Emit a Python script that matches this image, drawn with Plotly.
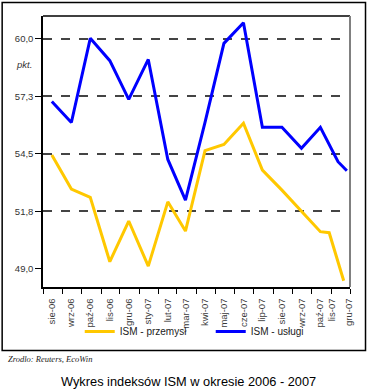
import plotly.graph_objects as go

# --- data ---
dates_przemysl = ["2006-08-15", "2006-09-15", "2006-10-15", "2006-11-15", "2006-12-15",
                  "2007-01-15", "2007-02-15", "2007-03-15", "2007-04-15", "2007-05-15",
                  "2007-06-15", "2007-07-15", "2007-08-15", "2007-09-15", "2007-10-15",
                  "2007-10-29", "2007-11-21"]
ism_przemysl = [54.44, 52.81, 52.41, 49.33, 51.28, 49.12, 52.20, 50.80, 54.65, 54.95,
                55.96, 53.72, 52.76, 51.73, 50.77, 50.72, 48.42]

dates_uslugi = ["2006-08-15", "2006-09-15", "2006-10-15", "2006-11-15", "2006-12-15",
                "2007-01-15", "2007-02-15", "2007-03-15", "2007-04-15", "2007-05-15",
                "2007-06-15", "2007-07-15", "2007-08-15", "2007-09-15", "2007-10-15",
                "2007-11-12", "2007-11-26"]
ism_uslugi = [57.0, 56.0, 60.03, 58.96, 57.11, 59.02, 54.23, 52.28, 56.0, 59.79,
              60.78, 55.77, 55.77, 54.76, 55.77, 54.12, 53.69]

tick_dates = ["2006-08-15", "2006-09-15", "2006-10-15", "2006-11-15", "2006-12-15",
              "2007-01-15", "2007-02-15", "2007-03-15", "2007-04-15", "2007-05-15",
              "2007-06-15", "2007-07-15", "2007-08-15", "2007-09-15", "2007-10-15",
              "2007-11-03", "2007-11-30"]
tick_labels = ["sie-06", "wrz-06", "paź-06", "lis-06", "gru-06", "sty-07", "lut-07",
               "mar-07", "kwi-07", "maj-07", "cze-07", "lip-07", "sie-07", "wrz-07",
               "paź-07", "lis-07", "gru-07"]

y_ticks = [49.0, 51.75, 54.5, 57.25, 60.0]
y_tick_labels = ["49,0", "51,8", "54,5", "57,3", "60,0"]
grid_ticks = [51.75, 54.5, 57.25, 60.0]

YELLOW = "#FFC800"
BLUE = "#0000FF"

fig = go.Figure()
# invisible trace to activate yaxis2 grid (drawn first, below data)
fig.add_trace(go.Scatter(x=[dates_uslugi[0]], y=[ism_uslugi[0]], yaxis="y2",
                         mode="lines", line=dict(width=0), showlegend=False,
                         hoverinfo="skip"))
fig.add_trace(go.Scatter(x=dates_przemysl, y=ism_przemysl, mode="lines",
                         name="ISM - przemysł", line=dict(color=YELLOW, width=3)))
fig.add_trace(go.Scatter(x=dates_uslugi, y=ism_uslugi, mode="lines",
                         name="ISM - usługi", line=dict(color=BLUE, width=3)))

L, R, T, B = 43.3, 350.0, 16.0, 287.0
W, H = 380, 391
pw, ph = R - L, B - T


def px(x):
    return (x - L) / pw


def py(y):
    return (B - y) / ph


yrange = [48.12, 61.1]

fig.update_layout(
    width=W, height=H,
    margin=dict(l=L, r=W - R, t=T, b=H - B, autoexpand=False),
    paper_bgcolor="white", plot_bgcolor="white",
    font=dict(family="Liberation Sans, Arial, sans-serif", color="#333333", size=10),
    showlegend=True,
    legend=dict(orientation="h", x=px(80), y=py(331.5), xanchor="left", yanchor="middle",
                font=dict(size=10, color="#222222"), itemwidth=30, entrywidth=86,
                bgcolor="rgba(0,0,0,0)", tracegroupgap=0),
    xaxis=dict(
        type="date", range=["2006-08-01", "2007-12-01"],
        tickmode="array", tickvals=tick_dates, ticktext=tick_labels,
        tickangle=-90, ticks="", showgrid=False,
        showline=True, linecolor="black", linewidth=1.5,
        tickfont=dict(size=9.5, color="#3a3a3a"), ticklabelstandoff=6,
        minor=dict(ticks="outside", ticklen=5, tickcolor="black", tickwidth=1.2,
                   dtick="M1", tick0="2006-08-01", showgrid=False),
        mirror=False, zeroline=False,
    ),
    yaxis=dict(
        range=yrange, tickmode="array", tickvals=y_ticks, ticktext=y_tick_labels,
        ticks="outside", ticklen=6, tickcolor="black", tickwidth=1.2,
        showgrid=False, showline=True, linecolor="black", linewidth=1.5,
        tickfont=dict(size=9.5, color="#333333"), zeroline=False,
    ),
    yaxis2=dict(
        range=yrange, overlaying="y", tickmode="array", tickvals=grid_ticks,
        showticklabels=False, showgrid=True, gridcolor="#444444", gridwidth=1.5,
        griddash="dash", zeroline=False, showline=False,
    ),
)

shapes = [
    dict(type="line", xref="paper", yref="paper", x0=0, x1=1, y0=1, y1=1,
         line=dict(color="black", width=1.5)),
    dict(type="line", xref="paper", yref="paper", x0=1, x1=1, y0=0, y1=1,
         line=dict(color="#808080", width=2)),
    dict(type="rect", xref="paper", yref="paper", x0=px(2.5), x1=px(365.5),
         y0=py(350.5), y1=py(2.5), line=dict(color="black", width=1.5),
         fillcolor="rgba(0,0,0,0)"),
]
fig.update_layout(shapes=shapes)

annotations = [
    dict(text="<i>pkt.</i>", xref="paper", yref="paper", x=px(24), y=py(64),
         showarrow=False, font=dict(size=9.5, color="#333333"),
         xanchor="center", yanchor="middle"),
    dict(text="<i>Zrodlo: Reuters, EcoWin</i>", xref="paper", yref="paper",
         x=px(6), y=py(359), showarrow=False, xanchor="left", yanchor="middle",
         font=dict(family="Liberation Serif, Times New Roman, serif", size=8.5,
                   color="#222222")),
    dict(text="Wykres indeksów ISM w okresie 2006 - 2007", xref="paper", yref="paper",
         x=px(188.5), y=py(381), showarrow=False, xanchor="center", yanchor="middle",
         font=dict(family="Liberation Sans, Arial, sans-serif", size=12.8, color="black")),
]
fig.update_layout(annotations=annotations)

fig.write_html("out.html", config={"displayModeBar": False},
               post_script="document.body.style.margin='0';document.body.style.padding='0';")
